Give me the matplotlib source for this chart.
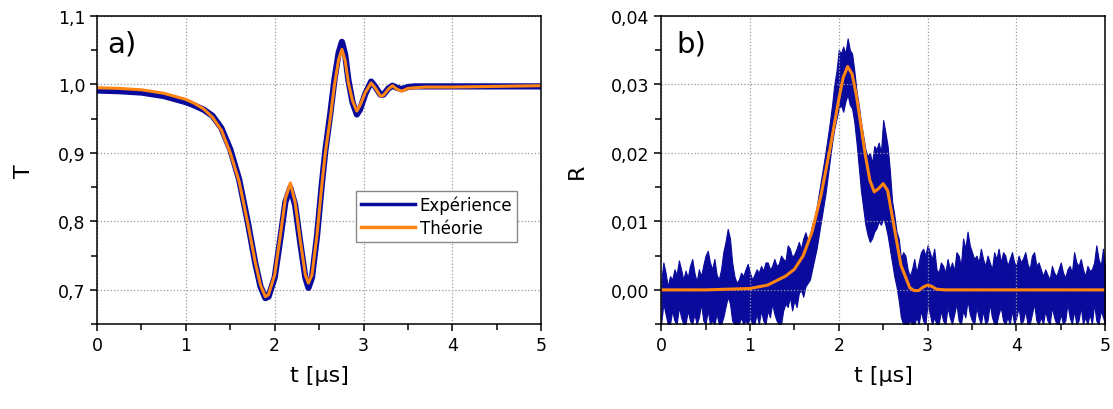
import numpy as np
import matplotlib.pyplot as plt
from matplotlib.ticker import MultipleLocator, FuncFormatter

# ---- panel a) : transmission T(t) ----
t_a = [0, 0.25, 0.5, 0.75, 1.0, 1.1, 1.2, 1.3, 1.4, 1.5, 1.6, 1.7, 1.78, 1.84, 1.895,
       1.93, 2.0, 2.064, 2.12, 2.176, 2.23, 2.29, 2.345, 2.38, 2.42, 2.476, 2.53, 2.57,
       2.625, 2.674, 2.72, 2.757, 2.794, 2.83, 2.876, 2.925, 2.96, 3.02, 3.086, 3.13,
       3.19, 3.225, 3.28, 3.326, 3.375, 3.43, 3.5, 3.58, 3.7, 4.0, 4.5, 5.0]
T_theory = [0.995, 0.994, 0.992, 0.987, 0.978, 0.972, 0.964, 0.952, 0.933, 0.900,
            0.858, 0.795, 0.741, 0.707, 0.690, 0.693, 0.722, 0.780, 0.833, 0.856,
            0.828, 0.770, 0.722, 0.710, 0.722, 0.780, 0.852, 0.900, 0.950, 1.000,
            1.036, 1.051, 1.034, 1.002, 0.976, 0.961, 0.969, 0.988, 1.002, 0.995,
            0.983, 0.984, 0.993, 0.998, 0.993, 0.990, 0.994, 0.995, 0.996, 0.996,
            0.997, 0.998]
T_exp = [0.991, 0.990, 0.988, 0.983, 0.974, 0.969, 0.963, 0.954, 0.936, 0.905,
         0.861, 0.797, 0.740, 0.705, 0.688, 0.690, 0.718, 0.775, 0.828, 0.849,
         0.824, 0.767, 0.718, 0.703, 0.718, 0.778, 0.853, 0.903, 0.956, 1.008,
         1.046, 1.062, 1.043, 1.006, 0.974, 0.956, 0.963, 0.986, 1.004, 0.997,
         0.985, 0.985, 0.994, 0.998, 0.995, 0.993, 0.996, 0.997, 0.997, 0.997,
         0.997, 0.997]

# ---- panel b) : reflection R(t) ----
t_b = [0, 0.5, 1.0, 1.2, 1.4, 1.5, 1.6, 1.7, 1.8, 1.9, 2.0, 2.05, 2.1, 2.15, 2.2,
       2.3, 2.35, 2.4, 2.45, 2.5, 2.55, 2.6, 2.7, 2.8, 2.85, 2.9, 2.95, 3.0, 3.05,
       3.1, 3.2, 4.0, 5.0]
R_theory = [0.0, 0.0, 0.0002, 0.0007, 0.002, 0.003, 0.005, 0.0085, 0.0138, 0.0205,
            0.0278, 0.0310, 0.0326, 0.0315, 0.0283, 0.0196, 0.0160, 0.0143, 0.0148,
            0.0155, 0.0145, 0.0109, 0.0036, 0.0003, -0.0001, -0.0001, 0.0004,
            0.0007, 0.0005, 0.0001, 0.0, 0.0, 0.0]

# noisy measurement: upper / lower envelope every 0.025 µs
t_noise = np.linspace(0, 5, 201)
R_exp_hi = [
    0.0010, 0.0040, 0.0025, 0.0005, 0.0020, 0.0015, 0.0030, 0.0022, 0.0043, 0.0030,
    0.0015, 0.0028, 0.0018, 0.0035, 0.0045, 0.0025, 0.0012, 0.0030, 0.0020, 0.0036,
    0.0050, 0.0057, 0.0040, 0.0030, 0.0045, 0.0022, 0.0015, 0.0030, 0.0055, 0.0070,
    0.0089, 0.0075, 0.0040, 0.0020, 0.0010, 0.0015, 0.0025, 0.0020, 0.0030, 0.0038,
    0.0025, 0.0015, 0.0022, 0.0030, 0.0025, 0.0035, 0.0028, 0.0040, 0.0040, 0.0030,
    0.0035, 0.0045, 0.0035, 0.0038, 0.0050, 0.0045, 0.0042, 0.0065, 0.0060, 0.0048,
    0.0052, 0.0060, 0.0070, 0.0060, 0.0075, 0.0084, 0.0072, 0.0080, 0.0095, 0.0105,
    0.0120, 0.0140, 0.0160, 0.0180, 0.0200, 0.0222, 0.0245, 0.0270, 0.0300, 0.0320,
    0.0350, 0.0345, 0.0355, 0.0345, 0.0367, 0.0350, 0.0345, 0.0320, 0.0290, 0.0270,
    0.0245, 0.0225, 0.0205, 0.0195, 0.0200, 0.0185, 0.0210, 0.0205, 0.0215, 0.0200,
    0.0248, 0.0230, 0.0210, 0.0175, 0.0130, 0.0110, 0.0085, 0.0075, 0.0046, 0.0055,
    0.0050, 0.0030, 0.0020, 0.0030, 0.0045, 0.0025, 0.0040, 0.0055, 0.0060, 0.0050,
    0.0065, 0.0055, 0.0045, 0.0060, 0.0030, 0.0025, 0.0040, 0.0035, 0.0025, 0.0045,
    0.0030, 0.0040, 0.0028, 0.0055, 0.0050, 0.0035, 0.0075, 0.0060, 0.0085, 0.0065,
    0.0055, 0.0045, 0.0050, 0.0040, 0.0060, 0.0045, 0.0035, 0.0050, 0.0040, 0.0030,
    0.0055, 0.0045, 0.0060, 0.0040, 0.0055, 0.0050, 0.0035, 0.0045, 0.0055, 0.0040,
    0.0035, 0.0050, 0.0040, 0.0046, 0.0055, 0.0038, 0.0030, 0.0050, 0.0055, 0.0035,
    0.0040, 0.0030, 0.0020, 0.0030, 0.0022, 0.0015, 0.0035, 0.0025, 0.0020, 0.0030,
    0.0040, 0.0025, 0.0018, 0.0030, 0.0035, 0.0025, 0.0055, 0.0040, 0.0035, 0.0045,
    0.0030, 0.0020, 0.0035, 0.0028, 0.0030, 0.0040, 0.0065, 0.0045, 0.0035, 0.0060,
    0.0030]
R_exp_lo = [
    -0.0050, -0.0020, -0.0035, -0.0050, -0.0050, -0.0030, -0.0045, -0.0050, -0.0025, -0.0040,
    -0.0050, -0.0050, -0.0030, -0.0045, -0.0050, -0.0035, -0.0050, -0.0040, -0.0020, -0.0045,
    -0.0050, -0.0030, -0.0050, -0.0045, -0.0050, -0.0035, -0.0050, -0.0050, -0.0040, -0.0025,
    -0.0010, -0.0020, -0.0045, -0.0050, -0.0050, -0.0050, -0.0040, -0.0050, -0.0045, -0.0050,
    -0.0040, -0.0050, -0.0050, -0.0035, -0.0050, -0.0030, -0.0045, -0.0050, -0.0030, -0.0040,
    -0.0020, -0.0035, -0.0045, -0.0050, -0.0050, -0.0030, -0.0020, -0.0025, -0.0010, -0.0030,
    -0.0015, -0.0025, -0.0005, 0.0000, -0.0010, 0.0005, 0.0010, 0.0015, 0.0030, 0.0045,
    0.0060, 0.0080, 0.0100, 0.0120, 0.0140, 0.0165, 0.0190, 0.0215, 0.0235, 0.0250,
    0.0265, 0.0270, 0.0260, 0.0275, 0.0285, 0.0270, 0.0265, 0.0245, 0.0215, 0.0180,
    0.0145, 0.0120, 0.0095, 0.0080, 0.0070, 0.0075, 0.0085, 0.0090, 0.0100, 0.0095,
    0.0105, 0.0095, 0.0080, 0.0060, 0.0040, 0.0020, 0.0005, -0.0015, -0.0040, -0.0050,
    -0.0050, -0.0050, -0.0045, -0.0050, -0.0050, -0.0040, -0.0050, -0.0030, -0.0045, -0.0050,
    -0.0020, -0.0035, -0.0050, -0.0040, -0.0050, -0.0050, -0.0030, -0.0045, -0.0050, -0.0025,
    -0.0040, -0.0050, -0.0035, -0.0020, -0.0045, -0.0050, -0.0030, -0.0040, -0.0015, -0.0035,
    -0.0045, -0.0050, -0.0025, -0.0040, -0.0050, -0.0030, -0.0050, -0.0045, -0.0020, -0.0040,
    -0.0050, -0.0050, -0.0035, -0.0025, -0.0045, -0.0050, -0.0040, -0.0050, -0.0030, -0.0050,
    -0.0040, -0.0025, -0.0050, -0.0045, -0.0030, -0.0050, -0.0050, -0.0035, -0.0020, -0.0045,
    -0.0050, -0.0040, -0.0050, -0.0030, -0.0045, -0.0050, -0.0025, -0.0040, -0.0050, -0.0050,
    -0.0035, -0.0050, -0.0045, -0.0020, -0.0040, -0.0050, -0.0030, -0.0050, -0.0045, -0.0025,
    -0.0050, -0.0040, -0.0050, -0.0035, -0.0050, -0.0020, -0.0045, -0.0050, -0.0030, -0.0040,
    -0.0050]

blue = '#0a0a9c'
orange = '#ff8410'

fig = plt.figure(figsize=(11.13, 4.10), dpi=100)
ax1 = fig.add_axes([0.0872, 0.207, 0.399, 0.752])
ax2 = fig.add_axes([0.594, 0.207, 0.399, 0.752])


def style(ax, ylab, ymin, ymax, ystep, fmt):
    ax.set_xlim(0, 5)
    ax.set_ylim(ymin, ymax)
    ax.xaxis.set_major_locator(MultipleLocator(1))
    ax.xaxis.set_minor_locator(MultipleLocator(0.5))
    ax.yaxis.set_major_locator(MultipleLocator(ystep))
    ax.yaxis.set_minor_locator(MultipleLocator(ystep / 2))
    ax.yaxis.set_major_formatter(FuncFormatter(lambda v, p: fmt.format(v).replace('.', ',')))
    ax.tick_params(which='both', direction='out', top=False, right=False,
                   labelsize=12.5, width=1.1)
    ax.tick_params(which='major', length=5)
    ax.tick_params(which='minor', length=4)
    ax.grid(True, which='major', linestyle=':', color='#999999', linewidth=0.9)
    for s in ax.spines.values():
        s.set_linewidth(1.1)
    ax.set_xlabel('t [µs]', fontsize=16, labelpad=8)
    ax.set_ylabel(ylab, fontsize=16, labelpad=17)


style(ax1, 'T', 0.65, 1.1, 0.1, '{:.1f}')
style(ax2, 'R', -0.005, 0.04, 0.01, '{:.2f}')

ax1.plot(t_a, T_exp, color=blue, lw=4.5, label='Expérience')
ax1.plot(t_a, T_theory, color=orange, lw=2.2, label='Théorie')
leg = ax1.legend(loc='upper left', bbox_to_anchor=(0.565, 0.46), fontsize=12,
                 fancybox=False, edgecolor='#888888', framealpha=1,
                 handlelength=3.2, borderpad=0.3, labelspacing=0.3, handletextpad=0.3)
for line in leg.get_lines():
    line.set_linewidth(2.5)
ax1.text(0.022, 0.955, 'a)', transform=ax1.transAxes, fontsize=21, va='top')

ax2.fill_between(t_noise, R_exp_lo, R_exp_hi, color=blue, lw=0.8, edgecolor=blue)
ax2.plot(t_b, R_theory, color=orange, lw=2.2)
ax2.text(0.035, 0.955, 'b)', transform=ax2.transAxes, fontsize=21, va='top')

fig.savefig('out.png', dpi=100)
